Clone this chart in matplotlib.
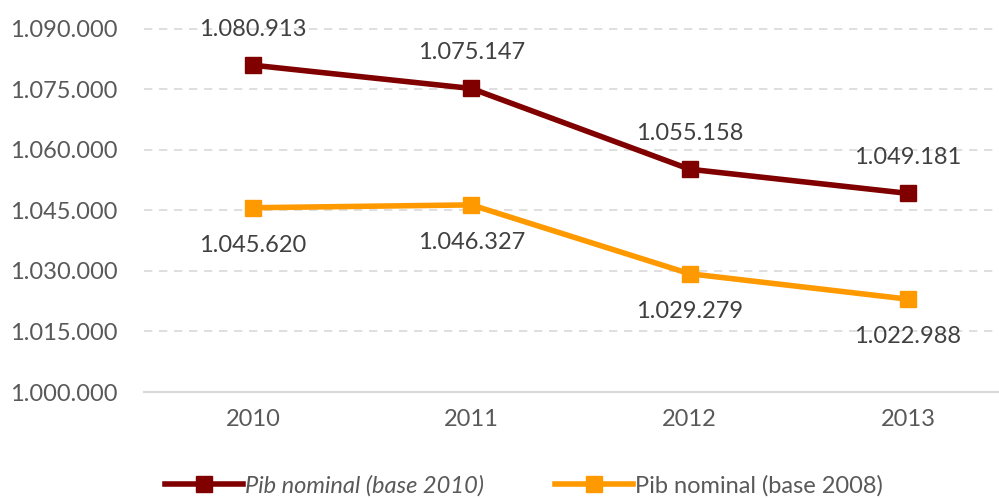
import matplotlib.pyplot as plt
from matplotlib.ticker import FuncFormatter

plt.rcParams['font.family'] = ['Lato', 'DejaVu Sans']

# dati
anni = ['2010', '2011', '2012', '2013']
pib_2010 = [1080913, 1075147, 1055158, 1049181]
pib_2008 = [1045620, 1046327, 1029279, 1022988]
yticks = [1000000, 1015000, 1030000, 1045000, 1060000, 1075000, 1090000]

rosso = '#800000'
arancio = '#FF9900'

def fmt(v):
    return f'{int(v):,}'.replace(',', '.')

fig = plt.figure(figsize=(9.99, 4.98), dpi=100)
ax = fig.add_axes([144 / 999, 1 - 392 / 498, 1 - 144 / 999, (392 - 28.5) / 498])

x = list(range(len(anni)))
l1, = ax.plot(x, pib_2010, color=rosso, lw=4, marker='s', ms=11, label='Pib nominal (base 2010)')
l2, = ax.plot(x, pib_2008, color=arancio, lw=4, marker='s', ms=11, label='Pib nominal (base 2008)')

for xi, v in zip(x, pib_2010):
    ax.annotate(fmt(v), (xi, v), xytext=(0, 26), textcoords='offset points',
                ha='center', va='center', fontsize=17, color='#404040')
for xi, v in zip(x, pib_2008):
    ax.annotate(fmt(v), (xi, v), xytext=(0, -27), textcoords='offset points',
                ha='center', va='center', fontsize=17, color='#404040')

ax.set_xlim(-0.5, 3.5 - 18 / 218)
ax.set_ylim(1000000, 1090000)
ax.set_xticks(x)
ax.set_xticklabels(anni)
ax.set_yticks(yticks)
ax.yaxis.set_major_formatter(FuncFormatter(lambda v, p: fmt(v)))
ax.tick_params(axis='both', length=0, labelsize=17, colors='#595959')
ax.tick_params(axis='y', pad=19)
ax.tick_params(axis='x', pad=12)

ax.grid(axis='y', color='#D9D9D9', linestyle=(0, (5, 4)), lw=1.2)
ax.set_axisbelow(True)
for s in ['top', 'right', 'left']:
    ax.spines[s].set_visible(False)
ax.spines['bottom'].set_color('#D9D9D9')
ax.spines['bottom'].set_linewidth(1.5)

leg = fig.legend(handles=[l1, l2], loc='center', bbox_to_anchor=(524 / 999, 1 - 486 / 498),
                 ncol=2, frameon=False, fontsize=17, handlelength=3.3, handletextpad=0.1,
                 columnspacing=3.0, borderaxespad=0)
for t in leg.get_texts():
    t.set_color('#595959')
leg.get_texts()[0].set_style('italic')

fig.savefig('out.png', dpi=100)
